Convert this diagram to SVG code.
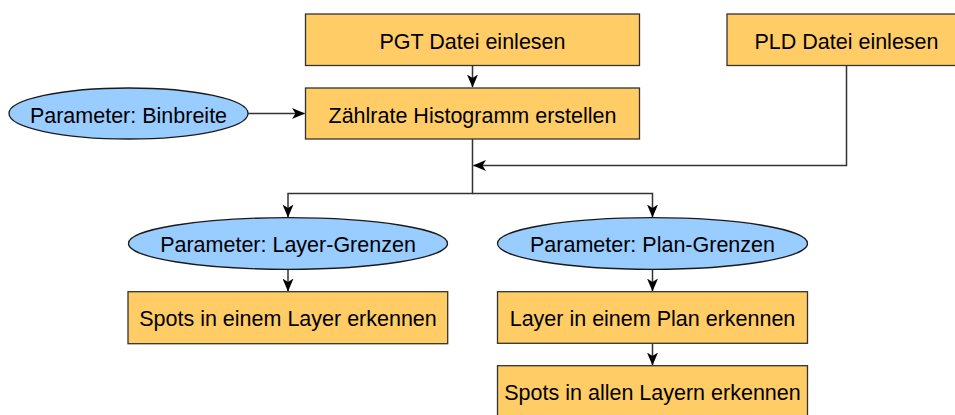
<svg xmlns="http://www.w3.org/2000/svg" width="955" height="415" viewBox="0 0 955 415">
<defs>
<style>
.box{fill:#FFCC66;stroke:#333333;stroke-width:1.3}
.par{fill:#99CCFF;stroke:#1a1a1a;stroke-width:1.3}
.t{font-family:"Liberation Sans",Arial,sans-serif;font-size:21.5px;fill:#000;text-anchor:middle}
.c{fill:none;stroke:#333333;stroke-width:1.5}
</style>
<marker id="ah" viewBox="0 0 13 11" refX="12.5" refY="5.5" markerWidth="13" markerHeight="11" markerUnits="userSpaceOnUse" orient="auto">
<path d="M0,0 L13,5.5 L0,11 L3.5,5.5 Z" fill="#000"/>
</marker>
</defs>
<rect width="955" height="415" fill="#fff"/>
<g id="connectors">
<path class="c" d="M472.5,65.5 V87" marker-end="url(#ah)"/>
<path class="c" d="M248,113.5 H304.5" marker-end="url(#ah)"/>
<path class="c" d="M846.5,65.5 V165.5 H473.5" marker-end="url(#ah)"/>
<path class="c" d="M472.5,139 V193.5 H288 V217" marker-end="url(#ah)"/>
<path class="c" d="M472.5,193.5 H652.5 V217" marker-end="url(#ah)"/>
<path class="c" d="M288,269.5 V291" marker-end="url(#ah)"/>
<path class="c" d="M652.5,269.5 V291" marker-end="url(#ah)"/>
<path class="c" d="M652.5,343.5 V365" marker-end="url(#ah)"/>
</g>
<g id="pgt"><rect class="box" x="305.5" y="14" width="334" height="51.5"/><text class="t" x="472.5" y="49">PGT Datei einlesen</text></g>
<g id="pld"><rect class="box" x="727" y="14" width="240" height="51.5"/><text class="t" x="846.5" y="49">PLD Datei einlesen</text></g>
<g id="histo"><rect class="box" x="305.5" y="88" width="334" height="51"/><text class="t" x="472.5" y="122.5">Zählrate Histogramm erstellen</text></g>
<g id="binbreite"><ellipse class="par" cx="128.5" cy="113.5" rx="119.5" ry="25.5"/><text class="t" x="128.5" y="122.5">Parameter: Binbreite</text></g>
<g id="layergrenzen"><ellipse class="par" cx="288" cy="243.5" rx="159.5" ry="25.8"/><text class="t" x="288" y="252.3">Parameter: Layer-Grenzen</text></g>
<g id="plangrenzen"><ellipse class="par" cx="652.5" cy="243.5" rx="155" ry="25.8"/><text class="t" x="652.5" y="252.3">Parameter: Plan-Grenzen</text></g>
<g id="spotslayer"><rect class="box" x="128" y="291.7" width="319.7" height="52"/><text class="t" x="288" y="326">Spots in einem Layer erkennen</text></g>
<g id="layerplan"><rect class="box" x="497.5" y="291.7" width="310" height="51.6"/><text class="t" x="652.5" y="326">Layer in einem Plan erkennen</text></g>
<g id="spotsallen"><rect class="box" x="497.5" y="365.7" width="310" height="60"/><text class="t" x="652.5" y="400">Spots in allen Layern erkennen</text></g>
</svg>
